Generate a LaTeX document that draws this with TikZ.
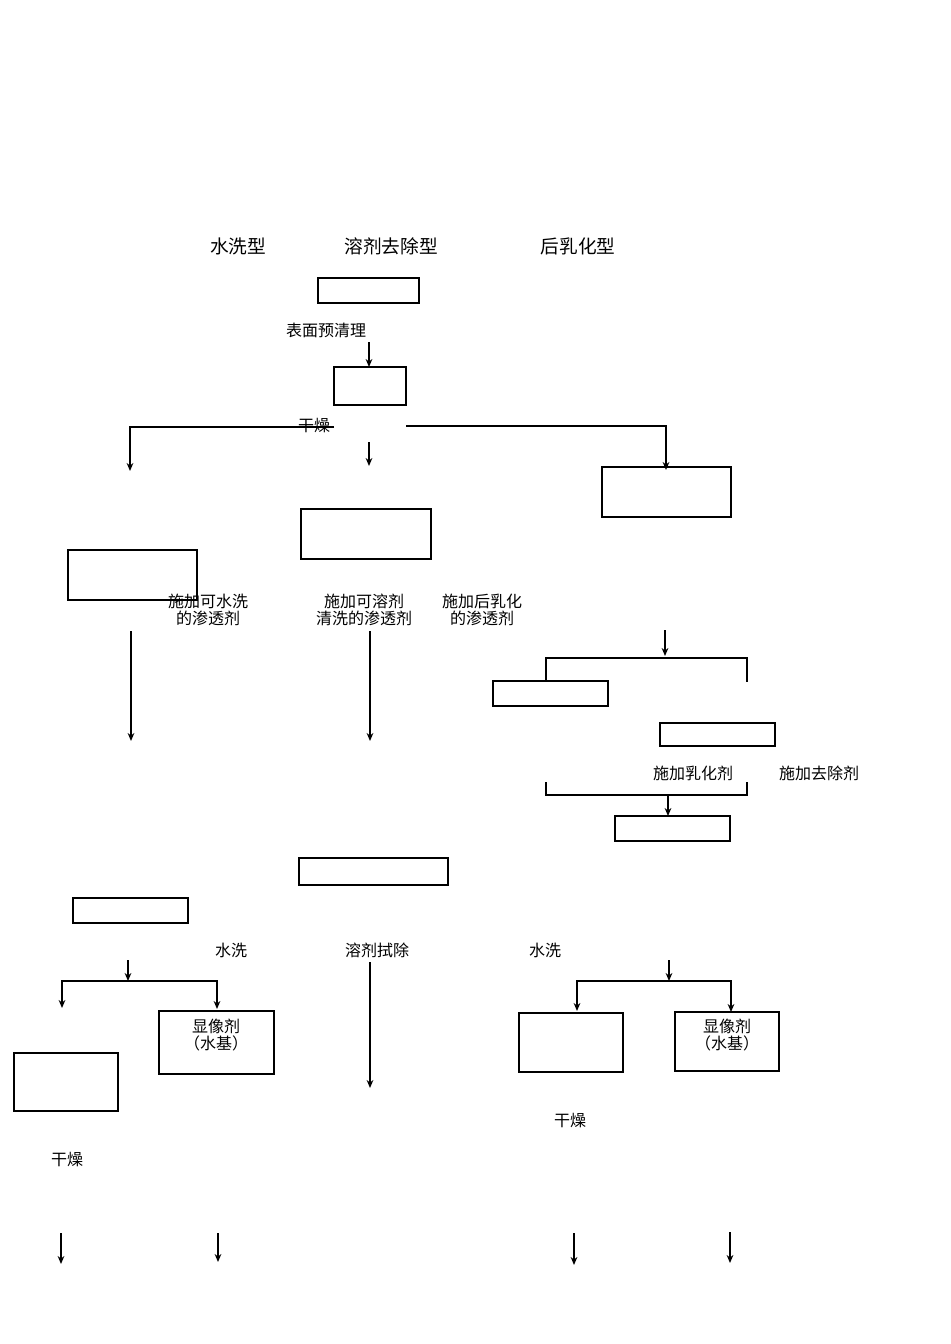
\documentclass[tikz,border=0pt]{standalone}
\usepackage{fontspec}
\setmainfont{Noto Sans CJK SC}
\usetikzlibrary{arrows.meta}
\begin{document}
\begin{tikzpicture}[x=0.75pt,y=-0.75pt,
  bx/.style={draw,line width=1.5pt},
  ln/.style={line width=1.5pt},
  ar/.style={line width=1.5pt,-{Stealth[length=6pt,width=5pt]}},
  tt/.style={font=\fontsize{12}{13}\selectfont,inner sep=0pt,align=center},
  hd/.style={font=\fontsize{14}{15}\selectfont,inner sep=0pt}]
\useasboundingbox (0,0) rectangle (950,1344);
\node[hd] (h1) at (238,246) {水洗型};
\node[hd] (h2) at (391,246) {溶剂去除型};
\node[hd] (h3) at (578,246) {后乳化型};
\draw[bx] (318,278) rectangle (419,303);
\draw[bx] (334,367) rectangle (406,405);
\draw[bx] (301,509) rectangle (431,559);
\draw[bx] (602,467) rectangle (731,517);
\draw[bx] (68,550) rectangle (197,600);
\draw[bx] (493,681) rectangle (608,706);
\draw[bx] (660,723) rectangle (775,746);
\draw[bx] (615,816) rectangle (730,841);
\draw[bx] (299,858) rectangle (448,885);
\draw[bx] (73,898) rectangle (188,923);
\draw[bx] (159,1011) rectangle (274,1074);
\draw[bx] (519,1013) rectangle (623,1072);
\draw[bx] (675,1012) rectangle (779,1071);
\draw[bx] (14,1053) rectangle (118,1111);
\node[tt] (d1) at (216,1035) {显像剂\\（水基）};
\node[tt] (d2) at (727,1035) {显像剂\\（水基）};
\node[tt] (t1) at (326,330) {表面预清理};
\node[tt] (t2) at (314,426) {干燥};
\node[tt] (t3) at (208,610) {施加可水洗\\的渗透剂};
\node[tt] (t4) at (364,610) {施加可溶剂\\清洗的渗透剂};
\node[tt] (t5) at (482,610) {施加后乳化\\的渗透剂};
\node[tt] (t6) at (693,773) {施加乳化剂};
\node[tt] (t7) at (819,773) {施加去除剂};
\node[tt] (t8) at (231,950) {水洗};
\node[tt] (t9) at (377,950) {溶剂拭除};
\node[tt] (t10) at (545,950) {水洗};
\node[tt] (t11) at (570,1121) {干燥};
\node[tt] (t12) at (67,1160) {干燥};
\draw[ar] (369,342) -- (369,367);
\draw[ar] (334,427) -- (130,427) -- (130,471);
\draw[ar] (369,442) -- (369,466);
\draw[ar] (406,426) -- (666,426) -- (666,470);
\draw[ar] (131,631) -- (131,741);
\draw[ar] (370,631) -- (370,741);
\draw[ar] (665,630) -- (665,656);
\draw[ln] (546,681) -- (546,658) -- (747,658) -- (747,682);
\draw[ln] (546,782) -- (546,795) -- (747,795) -- (747,782);
\draw[ar] (668,795) -- (668,816);
\draw[ar] (128,960) -- (128,981);
\draw[ar] (128,981) -- (62,981) -- (62,1008);
\draw[ar] (128,981) -- (217,981) -- (217,1009);
\draw[ar] (370,962) -- (370,1088);
\draw[ar] (669,960) -- (669,981);
\draw[ar] (669,981) -- (577,981) -- (577,1011);
\draw[ar] (669,981) -- (731,981) -- (731,1012);
\draw[ar] (61,1233) -- (61,1264);
\draw[ar] (218,1233) -- (218,1262);
\draw[ar] (574,1233) -- (574,1265);
\draw[ar] (730,1232) -- (730,1263);
\end{tikzpicture}
\end{document}
